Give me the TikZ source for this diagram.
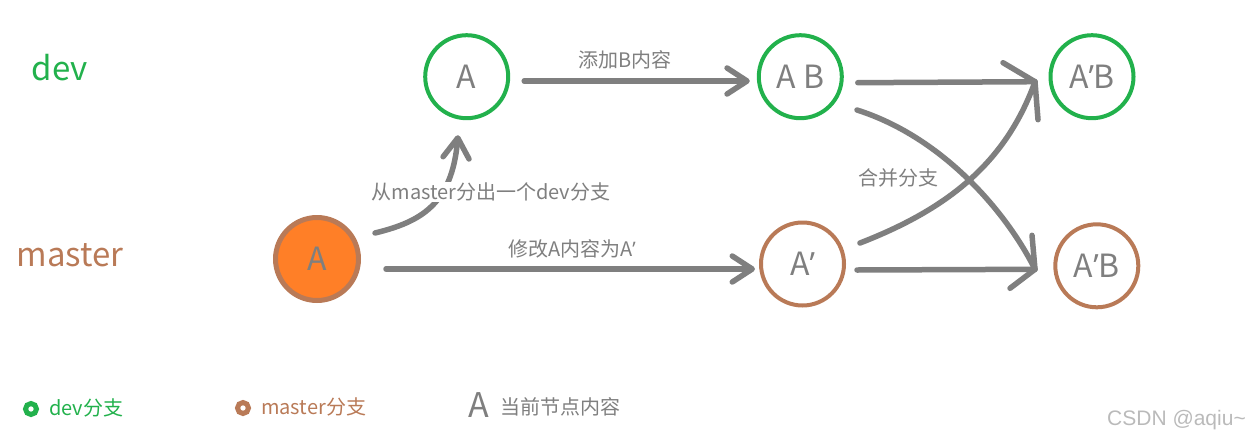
\documentclass[tikz,border=0pt]{standalone}
\usepackage{fontspec}
\setmainfont{Noto Sans CJK SC}
\newfontfamily\latinf{Open Sans}
\newfontfamily\wmfont{Liberation Sans}
\usetikzlibrary{calc,arrows.meta}
\definecolor{devg}{HTML}{22B14C}
\definecolor{mbrown}{HTML}{B97A57}
\definecolor{morange}{HTML}{FF7F27}
\definecolor{cgray}{HTML}{7F7F7F}
\newcommand{\pr}{{\latinf ’}}
\begin{document}
\begin{tikzpicture}[x=1pt,y=-1pt,
  commit/.style={circle, minimum size=83pt, inner sep=0pt, line width=4pt, text=cgray, font=\fontsize{32}{38}\selectfont},
  devc/.style={commit, draw=devg},
  masc/.style={commit, draw=mbrown},
  conn/.style={draw=cgray, line width=5.5pt, line cap=round, line join=round},
  tip/.style={-{Straight Barb[length=20pt,width=26pt,round]}},
  lbl/.style={text=cgray, font=\fontsize{20}{24}\selectfont, inner sep=1pt},
  dot/.style={circle, line width=5pt, minimum size=11pt, inner sep=0pt},
]
\useasboundingbox (0,0) rectangle (1252,442);

% branch labels
\node[text=devg, font=\fontsize{33}{38}\selectfont] (devlbl) at (60,68) {dev};
\node[text=mbrown, font=\fontsize{33}{38}\selectfont] (maslbl) at (70,255) {master};

% commits
\node[devc] (d1) at (466.7,76.7) {A};
\node[devc] (d2) at (800.3,76.7) {A B};
\node[devc] (d3) at (1092,76.7) {A\pr B};
\node[masc, fill=morange, line width=5pt, minimum size=83pt] (m1) at (317,259) {A};
\node[masc] (m2) at (802.5,264) {A\pr};
\node[masc] (m3) at (1096.8,265.8) {A\pr B};

% tips of merged arrows
\coordinate (t1) at ($(d3.west)+(-13.5,5)$);
\coordinate (t2) at ($(m3.west)+(-18.3,3.5)$);

% straight connectors
\draw[conn, tip] ($(d1.east)+(14,4.3)$) -- ($(d2.west)+(-7,4.3)$);
\draw[conn, tip] ($(m1.east)+(25,10)$) -- ($(m2.west)+(-4,5)$);
\draw[conn] ($(d2.east)+(14,6)$) -- (t1);
\draw[conn] ($(m2.east)+(11,6)$) -- (t2);

% branch connector
\draw[conn, tip] ($(m1.center)+(58,-26)$) .. controls (420,222) and (452,205) .. ($(d1.south)+(-8.7,15)$);

% merge curves
\draw[conn] ($(m2.center)+(57.5,-21)$) .. controls (945,210) and (1005,165) .. (t1);
\draw[conn] ($(d2.center)+(56.7,33.3)$) .. controls (945,138) and (1008,215) .. (t2);

% merged arrow heads
\draw[conn] ($(t1)+(-32,-19)$) -- (t1) -- ($(t1)+(3,38)$);
\draw[conn] ($(t2)+(-3,-34)$) -- (t2) -- ($(t2)+(-25,19)$);

% labels
\node[lbl] (l1) at (625,60) {添加B内容};
\node[lbl] (l2) at (572,249) {修改A内容为A\pr};
\node[lbl, fill=white] (l3) at (491,192) {从master分出一个dev分支};
\node[lbl] (l4) at (898,178) {合并分支};

% legend
\node[dot, draw=devg] (g1) at (31,409) {};
\node[text=devg, font=\fontsize{20}{24}\selectfont, anchor=west, inner sep=0pt] (g1t) at (49,408) {dev分支};
\node[dot, draw=mbrown] (g2) at (243,408) {};
\node[text=mbrown, font=\fontsize{20}{24}\selectfont, anchor=west, inner sep=0pt] (g2t) at (261,407) {master分支};
\node[text=cgray, font=\fontsize{34}{40}\selectfont, inner sep=0pt] (g3) at (478.5,405.5) {A};
\node[text=cgray, font=\fontsize{20}{24}\selectfont, anchor=west, inner sep=0pt] (g3t) at (500,407) {当前节点内容};

% watermark
\node[text=black!27, font=\wmfont\fontsize{21}{24}\selectfont, anchor=east, inner sep=0pt] (wm) at (1246,420) {CSDN @aqiu\textasciitilde};
\end{tikzpicture}
\end{document}
